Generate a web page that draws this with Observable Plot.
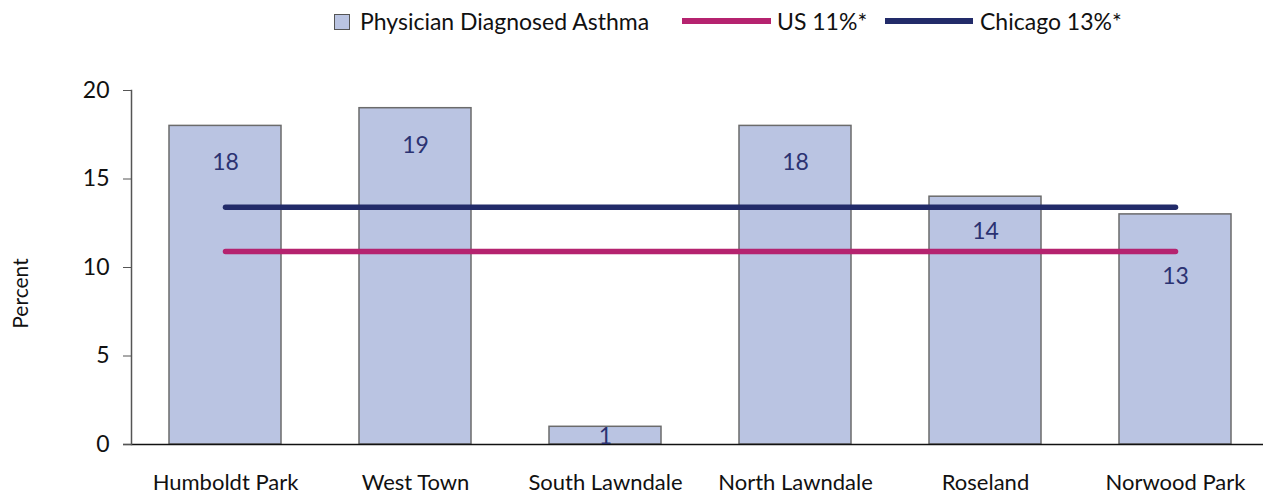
<!DOCTYPE html>
<html><head><meta charset="utf-8">
<script src="https://cdn.jsdelivr.net/npm/d3@7"></script>
<script src="https://cdn.jsdelivr.net/npm/@observablehq/plot@0.6"></script>
<style>
body{margin:0;background:#fff;font-family:Lato,"DejaVu Sans",sans-serif;color:#111;}
#legend{position:relative;width:1263px;height:40px;}
#legend .t{position:absolute;top:0;height:42px;line-height:42px;font-size:23px;white-space:nowrap;}
#legend .sw{position:absolute;top:14px;width:14px;height:14px;border:1px solid #555;}
#legend .ln{position:absolute;top:18px;height:6px;}
</style></head><body>
<div id="legend"></div>
<div id="chart"></div>
<script>
const categories = ["Humboldt Park","West Town","South Lawndale","North Lawndale","Roseland","Norwood Park"];
const asthma = [18, 19, 1, 18, 14, 13];
const labelAt = [15.9, 16.9, 0.45, 15.9, 12.0, 9.5];
const usRate = 10.9;
const chicagoRate = 13.4;
const yTicks = [0, 5, 10, 15, 20];
const seriesNames = ["Physician Diagnosed Asthma", "US 11%*", "Chicago 13%*"];

const barFill = "#BAC4E2", pink = "#B5236F", navy = "#222B69";

const rows = categories.map((c, i) => ({category: c, value: asthma[i], labelY: labelAt[i]}));

// legend
const lg = d3.select("#legend");
lg.append("div").attr("class","sw").style("left","334px").style("background",barFill);
lg.append("div").attr("class","t").style("left","360px").text(seriesNames[0]);
lg.append("div").attr("class","ln").style("left","682px").style("width","89px").style("background",pink);
lg.append("div").attr("class","t").style("left","777px").text(seriesNames[1]);
lg.append("div").attr("class","ln").style("left","885px").style("width","88px").style("background",navy);
lg.append("div").attr("class","t").style("left","980px").text(seriesNames[2]);

const chart = Plot.plot({
  width: 1263,
  height: 457,
  marginLeft: 131,
  marginRight: 0,
  marginTop: 50,
  marginBottom: 53,
  style: {fontFamily: "Lato, 'DejaVu Sans', sans-serif", background: "#fff", color: "#111", overflow: "visible"},
  x: {domain: categories, range: [130, 1270], paddingInner: 0.41, paddingOuter: 0.205},
  y: {domain: [0, 20]},
  marks: [
    Plot.barY(rows, {x: "category", y: "value", fill: barFill, stroke: "#6b6b6b", strokeWidth: 1.5}),
    Plot.ruleY([0], {stroke: "#111", strokeWidth: 1.5, insetLeft: -8}),
    Plot.frame({anchor: "left", stroke: "#555", strokeWidth: 1.5}),
    Plot.axisY({ticks: yTicks, tickSize: 8, tickPadding: 14, fontSize: 23, label: null, stroke: "#555"}),
    Plot.axisX({tickSize: 0, tickPadding: 30, fontSize: 22, label: null}),
    Plot.lineY(rows, {x: "category", y: () => usRate, stroke: pink, strokeWidth: 5.5}),
    Plot.lineY(rows, {x: "category", y: () => chicagoRate, stroke: navy, strokeWidth: 5.5}),
    Plot.text(rows, {x: "category", y: "labelY", text: d => String(d.value), fill: "#2B3272", fontSize: 23}),
    Plot.text(["Percent"], {frameAnchor: "left", text: d => d, rotate: -90, dx: -110, dy: 26, textAnchor: "middle", fontSize: 21, fill: "#111"})
  ]
});
document.getElementById("chart").appendChild(chart);
</script>
</body></html>
